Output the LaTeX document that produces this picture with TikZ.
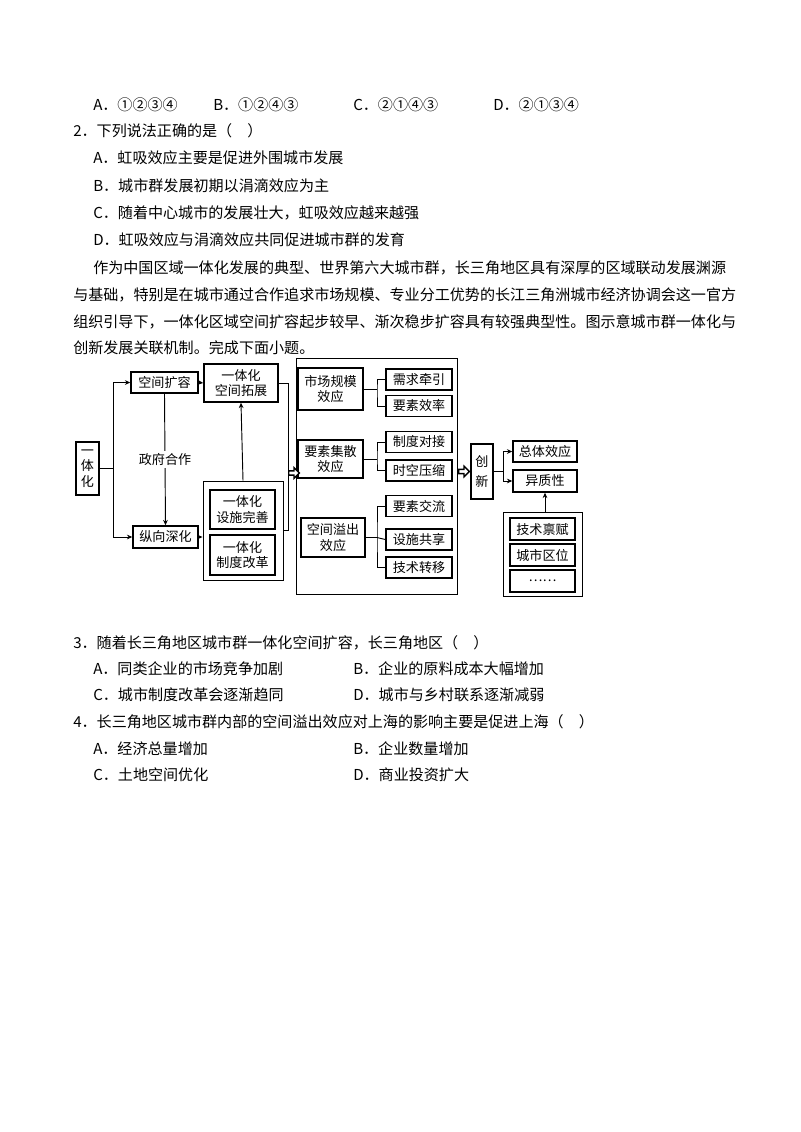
\documentclass[tikz,border=0pt]{standalone}
\usepackage{fontspec}
\setmainfont{Noto Sans CJK SC}
\usetikzlibrary{arrows.meta,shapes.arrows}
\begin{document}
\begin{tikzpicture}[x=0.75pt,y=-0.75pt,
  tx/.style={anchor=west,inner sep=0pt,font=\fontsize{11.3}{13}\selectfont},
  bx/.style={draw,line width=1.1pt,inner sep=0pt,align=center,font=\fontsize{9.8}{11.5}\selectfont},
  ob/.style={draw,line width=0.7pt,inner sep=0pt},
  ln/.style={line width=0.7pt},
  ar/.style={line width=0.7pt,-{Stealth[length=4pt,width=3.5pt]}},
  hol/.style={single arrow,draw,line width=1pt,fill=white,minimum height=8pt,minimum width=8pt,single arrow head extend=2pt,inner sep=0.8pt}]
\useasboundingbox (0,0) rectangle (800,1132);
% text above
\node[tx] (q1a) at (93,105) {A．①②③④};
\node[tx] (q1b) at (213,105) {B．①②④③};
\node[tx] (q1c) at (353,105) {C．②①④③};
\node[tx] (q1d) at (493,105) {D．②①③④};
\node[tx] (q2) at (73,131) {2．下列说法正确的是（\quad）};
\node[tx] (q2a) at (93,158) {A．虹吸效应主要是促进外围城市发展};
\node[tx] (q2b) at (93,186) {B．城市群发展初期以涓滴效应为主};
\node[tx] (q2c) at (93,213) {C．随着中心城市的发展壮大，虹吸效应越来越强};
\node[tx] (q2d) at (93,240) {D．虹吸效应与涓滴效应共同促进城市群的发育};
\node[tx] (p1) at (93,268) {作为中国区域一体化发展的典型、世界第六大城市群，长三角地区具有深厚的区域联动发展渊源};
\node[tx] (p2) at (73,295) {与基础，特别是在城市通过合作追求市场规模、专业分工优势的长江三角洲城市经济协调会这一官方};
\node[tx] (p3) at (73,322) {组织引导下，一体化区域空间扩容起步较早、渐次稳步扩容具有较强典型性。图示意城市群一体化与};
\node[tx] (p4) at (73,348) {创新发展关联机制。完成下面小题。};
% diagram
\node[bx,minimum width=17.25pt,minimum height=39.75pt] (a) at (87.5,468.5) {一\\体\\化};
\node[bx,minimum width=50.25pt,minimum height=15.75pt] (kk) at (164.5,382.5) {空间扩容};
\node[bx,minimum width=48.75pt,minimum height=16.5pt] (zx) at (165.5,537) {纵向深化};
\node[bx,minimum width=55.5pt,minimum height=28.5pt] (tz) at (241,383) {一体化\\空间拓展};
\node[ob,minimum width=60pt,minimum height=74.25pt] (og) at (243,530.5) {};
\node[bx,minimum width=48.75pt,minimum height=29.25pt] (ss) at (242.5,509.5) {一体化\\设施完善};
\node[bx,minimum width=48.75pt,minimum height=30pt] (zd) at (242.5,555) {一体化\\制度改革};
\node[ob,minimum width=120.75pt,minimum height=177pt] (big) at (376.5,476) {};
\node[bx,minimum width=48.75pt,minimum height=31.5pt] (m1) at (330.5,389) {市场规模\\效应};
\node[bx,minimum width=49.5pt,minimum height=15.75pt] (m1a) at (419,379.5) {需求牵引};
\node[bx,minimum width=49.5pt,minimum height=15.75pt] (m1b) at (419,406) {要素效率};
\node[bx,minimum width=48.75pt,minimum height=28.5pt] (m2) at (330.5,459) {要素集散\\效应};
\node[bx,minimum width=49.5pt,minimum height=15.75pt] (m2a) at (419,442) {制度对接};
\node[bx,minimum width=49.5pt,minimum height=15.75pt] (m2b) at (419,470.5) {时空压缩};
\node[bx,minimum width=48pt,minimum height=29.25pt] (m3) at (333,537.5) {空间溢出\\效应};
\node[bx,minimum width=49.5pt,minimum height=15.75pt] (m3a) at (419,506) {要素交流};
\node[bx,minimum width=49.5pt,minimum height=15.75pt] (m3b) at (419,539.5) {设施共享};
\node[bx,minimum width=49.5pt,minimum height=15.75pt] (m3c) at (419,567.5) {技术转移};
\node[bx,minimum width=16.5pt,minimum height=41.25pt] (cx) at (482,471.5) {创\\[3pt]新};
\node[bx,minimum width=48pt,minimum height=15.75pt] (zt) at (545,451.5) {总体效应};
\node[bx,minimum width=48pt,minimum height=16.5pt] (yz) at (545,481) {异质性};
\node[ob,minimum width=59.25pt,minimum height=63pt] (obx) at (542.5,554) {};
\node[bx,minimum width=48.75pt,minimum height=16.5pt] (j1) at (542.5,529) {技术禀赋};
\node[bx,minimum width=48.75pt,minimum height=16.5pt] (j2) at (542.5,555) {城市区位};
\node[bx,minimum width=48.75pt,minimum height=16.5pt] (j3) at (542.5,581) {……};
% connectors
\coordinate (br1) at (113,468.5);
\draw[ln] (a.east) -- (br1);
\draw[ar] (br1) |- (kk.west);
\draw[ar] (br1) |- (zx.west);
\draw[ar] (kk.east) -- (tz.west);
\draw[ar] (kk.south) -- node[fill=white,inner sep=2pt,font=\fontsize{9.8}{11}\selectfont] (zf) {政府合作} (zx.north);
\draw[ar] (zx.east) -- (og.west |- zx.east);
\draw[ar] (og.north) -- (tz.south);
\coordinate (c1) at (288,473);
\draw[ln] (tz.east) -| (c1);
\draw[ln] (og.east) -| (c1);
\node[hol,anchor=west] (h1) at (c1) {};
\coordinate (b1) at (377,389);
\coordinate (b2) at (377,459);
\coordinate (b3) at (377,537.5);
\draw[ln] (m1.east) -- (b1); \draw[ln] (m1a.west) -| (b1) |- (m1b.west);
\draw[ln] (m2.east) -- (b2); \draw[ln] (m2a.west) -| (b2) |- (m2b.west);
\draw[ln] (m3.east) -- (b3); \draw[ln] (m3a.west) -| (b3) |- (m3c.west); \draw[ln] (b3) -- (m3b.west);
\node[hol,anchor=east] (h2) at (cx.west) {};
\coordinate (c2) at (503,471.5);
\draw[ln] (cx.east) -- (c2);
\draw[ar] (c2) |- (zt.west);
\draw[ar] (c2) |- (yz.west);
\draw[ar] (obx.north -| yz.south) -- (yz.south);
% questions below
\node[tx] (q3) at (73,643) {3．随着长三角地区城市群一体化空间扩容，长三角地区（\quad）};
\node[tx] (q3a) at (93,669) {A．同类企业的市场竞争加剧};
\node[tx] (q3b) at (353,669) {B．企业的原料成本大幅增加};
\node[tx] (q3c) at (93,695) {C．城市制度改革会逐渐趋同};
\node[tx] (q3d) at (353,695) {D．城市与乡村联系逐渐减弱};
\node[tx] (q4) at (73,722) {4．长三角地区城市群内部的空间溢出效应对上海的影响主要是促进上海（\quad）};
\node[tx] (q4a) at (93,749) {A．经济总量增加};
\node[tx] (q4b) at (353,749) {B．企业数量增加};
\node[tx] (q4c) at (93,775) {C．土地空间优化};
\node[tx] (q4d) at (353,775) {D．商业投资扩大};
\end{tikzpicture}
\end{document}
